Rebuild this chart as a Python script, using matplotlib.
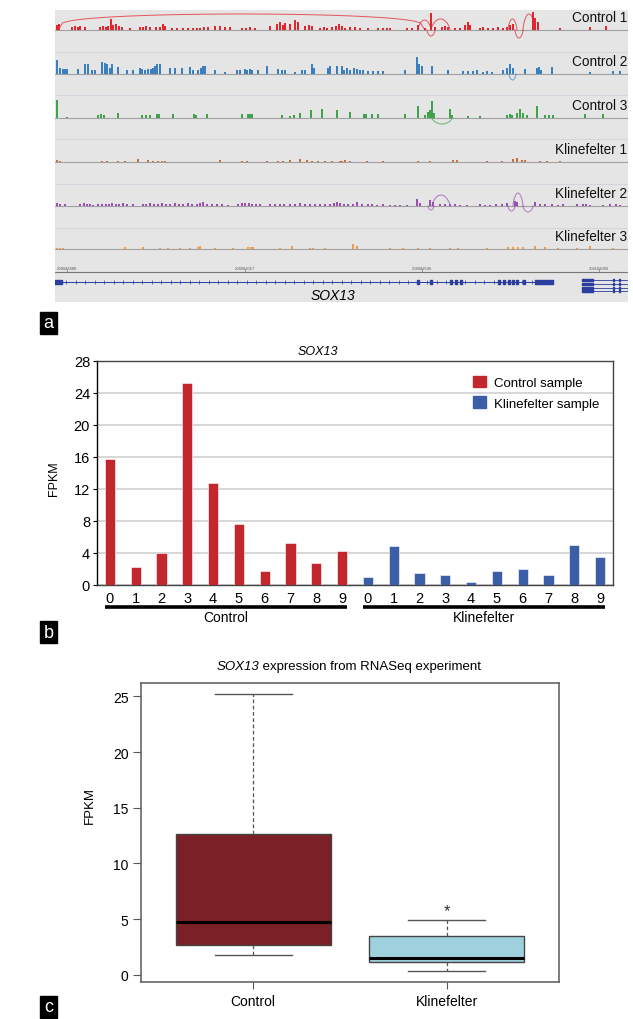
import matplotlib.pyplot as plt
import numpy as np
from matplotlib.patches import Patch, Rectangle

plt.rcParams["font.family"] = ["Liberation Sans", "DejaVu Sans"]

# ---- panel a: RNA-seq coverage along the SOX13 locus (position, peak height) ----
track_names = ["Control 1", "Control 2", "Control 3", "Klinefelter 1", "Klinefelter 2", "Klinefelter 3"]
track_colors = ["#e3262d", "#3a7fc1", "#3fa34d", "#c8703c", "#9b4fb5", "#f29a4a"]

c1_peaks = [(57, 5), (59, 6), (72, 3), (75, 4), (78, 3), (80, 4), (85, 3), (100, 3), (103, 4), (106, 3),
            (108, 4), (111, 11), (113, 5), (116, 6), (119, 4), (122, 3), (130, 2), (140, 3), (143, 3),
            (146, 4), (150, 3), (156, 3), (160, 3), (163, 6), (165, 4), (172, 2), (177, 2), (183, 2),
            (188, 2), (193, 2), (197, 2), (200, 2), (204, 3), (208, 3), (215, 4), (220, 4), (225, 3),
            (230, 3), (242, 2), (246, 2), (250, 3), (255, 2), (270, 4), (277, 6), (280, 8), (283, 5),
            (285, 7), (290, 6), (295, 10), (298, 8), (305, 4), (309, 5), (312, 4), (320, 2), (324, 3),
            (327, 2), (332, 3), (336, 4), (339, 6), (342, 4), (345, 2), (350, 3), (355, 3), (360, 2),
            (368, 2), (378, 2), (383, 2), (387, 2), (390, 2), (407, 2), (412, 2), (418, 5), (425, 2),
            (431, 17), (435, 3), (442, 3), (445, 4), (448, 3), (455, 2), (460, 2), (465, 5), (468, 8),
            (470, 5), (480, 2), (483, 3), (488, 2), (493, 2), (498, 3), (503, 2), (507, 3), (510, 5),
            (513, 6), (533, 18), (535, 12), (538, 8), (560, 2), (590, 3), (606, 4)]
c2_peaks = [(57, 14), (60, 6), (63, 5), (65, 5), (67, 5), (78, 5), (85, 10), (88, 10), (92, 4), (95, 4),
            (102, 12), (105, 11), (107, 10), (110, 6), (112, 10), (118, 7), (127, 4), (133, 4), (140, 6),
            (142, 5), (145, 4), (148, 5), (151, 5), (153, 6), (155, 8), (157, 10), (160, 10), (170, 6),
            (175, 6), (182, 6), (190, 7), (193, 4), (198, 4), (201, 6), (203, 8), (205, 8), (215, 4),
            (225, 2), (237, 4), (240, 4), (245, 5), (247, 4), (250, 5), (252, 4), (258, 4), (267, 8),
            (278, 5), (282, 4), (285, 4), (295, 2), (302, 4), (305, 4), (312, 10), (314, 6), (328, 6),
            (330, 8), (337, 8), (342, 8), (344, 4), (347, 6), (350, 4), (354, 6), (357, 5), (360, 4),
            (363, 4), (368, 3), (373, 3), (378, 3), (383, 3), (405, 4), (417, 17), (419, 10), (422, 8),
            (432, 8), (448, 4), (463, 3), (468, 3), (473, 3), (477, 4), (483, 2), (487, 3), (492, 2),
            (503, 4), (507, 6), (510, 10), (513, 6), (525, 5), (537, 6), (539, 7), (541, 4), (552, 7),
            (590, 2), (613, 3), (620, 3)]
c3_peaks = [(57, 18), (67, 1), (98, 3), (101, 4), (104, 3), (118, 5), (142, 3), (146, 3), (150, 3),
            (157, 4), (159, 4), (173, 4), (194, 4), (196, 3), (207, 4), (242, 4), (248, 4), (250, 4),
            (252, 4), (282, 3), (290, 2), (294, 3), (300, 5), (311, 8), (322, 9), (337, 8), (350, 6),
            (364, 4), (366, 4), (372, 4), (378, 4), (405, 4), (418, 12), (425, 3), (428, 6), (430, 8),
            (432, 17), (434, 5), (450, 9), (452, 3), (468, 2), (480, 2), (507, 3), (510, 4), (512, 3),
            (517, 5), (520, 9), (523, 5), (527, 3), (537, 12), (545, 3), (549, 3), (553, 3), (585, 4),
            (603, 4)]
k1_peaks = [(57, 2), (60, 1), (102, 1), (107, 1), (118, 1), (125, 1), (138, 3), (148, 2), (153, 1),
            (158, 1), (162, 1), (165, 1), (220, 2), (242, 1), (247, 1), (267, 1), (278, 1), (283, 1),
            (290, 2), (300, 3), (307, 2), (312, 1), (318, 1), (325, 1), (332, 1), (340, 1), (342, 1),
            (345, 2), (350, 1), (367, 1), (383, 1), (418, 1), (430, 1), (453, 2), (457, 2), (487, 1),
            (502, 1), (513, 3), (517, 4), (522, 2), (525, 2), (540, 1), (547, 1), (560, 1)]
k2_peaks = [(57, 3), (60, 2), (65, 2), (80, 2), (84, 3), (87, 2), (90, 2), (93, 1), (98, 2), (102, 2),
            (106, 2), (109, 2), (112, 3), (116, 2), (119, 2), (123, 3), (127, 2), (133, 2), (143, 2),
            (146, 2), (150, 3), (154, 2), (158, 2), (162, 3), (166, 2), (170, 2), (175, 3), (179, 2),
            (183, 2), (188, 3), (192, 2), (197, 2), (200, 3), (203, 4), (207, 2), (212, 2), (217, 2),
            (222, 2), (228, 1), (238, 2), (242, 3), (245, 3), (249, 3), (252, 2), (256, 2), (260, 2),
            (270, 2), (275, 2), (280, 2), (284, 2), (290, 2), (295, 2), (300, 3), (305, 2), (310, 2),
            (315, 2), (320, 2), (325, 2), (330, 2), (334, 3), (337, 4), (340, 3), (344, 2), (348, 2),
            (353, 2), (357, 4), (362, 2), (368, 2), (372, 2), (377, 1), (383, 2), (390, 1), (395, 1),
            (400, 1), (407, 1), (417, 7), (420, 3), (430, 6), (433, 4), (440, 2), (445, 2), (450, 2),
            (455, 2), (460, 1), (467, 1), (480, 2), (485, 1), (490, 1), (496, 2), (502, 2), (507, 3),
            (515, 5), (517, 4), (535, 4), (540, 2), (545, 2), (552, 2), (558, 1), (563, 2), (577, 2),
            (583, 2), (586, 2), (590, 1), (603, 1), (610, 2), (616, 2), (620, 1)]
k3_peaks = [(57, 1), (60, 1), (63, 1), (125, 2), (143, 2), (160, 1), (168, 1), (180, 1), (190, 1),
            (198, 2), (200, 3), (215, 1), (233, 1), (248, 2), (251, 2), (253, 2), (280, 1), (292, 3),
            (310, 1), (313, 1), (325, 1), (353, 5), (357, 3), (390, 1), (403, 1), (418, 1), (430, 1),
            (450, 1), (458, 1), (487, 1), (508, 2), (513, 2), (518, 2), (523, 2), (535, 3), (545, 2),
            (558, 1), (577, 1), (590, 3), (613, 1)]
track_peaks = [c1_peaks, c2_peaks, c3_peaks, k1_peaks, k2_peaks, k3_peaks]

# splice junctions (start, end, height; negative = drawn below the track)
track_arcs = [
    [(58, 425, 16), (418, 431, 10), (431, 450, 11), (427, 435, -6), (508, 517, 11), (515, 523, -8), (523, 535, 16)],
    [(509, 516, -6)],
    [(432, 452, -6)],
    [],
    [(432, 450, 11), (428, 434, -4), (508, 515, -5), (513, 523, 13), (523, 533, -6)],
    [],
]

ruler_labels = ["204043480", "204063017", "204082536", "204102056"]
ruler_pos = [67, 245, 422, 599]
exon_blocks = [(55, 7), (417, 2), (430, 2), (450, 2), (455, 2), (460, 2), (498, 2), (503, 2),
               (508, 2), (512, 2), (516, 2), (523, 2), (535, 18)]
alt_rows = [281, 285, 289, 292]

# ---- panel b: FPKM per sample ----
sample_ids = ["0", "1", "2", "3", "4", "5", "6", "7", "8", "9"]
control_fpkm = [15.7, 2.2, 4.0, 25.2, 12.7, 7.6, 1.8, 5.3, 2.8, 4.3]
klinefelter_fpkm = [1.05, 4.9, 1.45, 1.2, 0.38, 1.8, 2.0, 1.2, 5.0, 3.55]

# ---- panel c: boxplot statistics ----
groups = ["Control", "Klinefelter"]
box_q1 = [2.7, 1.13]
box_med = [4.7, 1.55]
box_q3 = [12.6, 3.48]
whis_lo = [1.75, 0.35]
whis_hi = [25.2, 4.95]
box_colors = ["#7a2026", "#9fd0de"]

W, H = 633, 1020
fig = plt.figure(figsize=(W / 100, H / 100), dpi=100)
renderer = fig.canvas.get_renderer()


def px_axes(l, t, r, b):
    return fig.add_axes([l / W, 1 - b / H, (r - l) / W, (b - t) / H])


def tag(letter, top):
    fig.patches.append(Rectangle((40 / W, 1 - (top + 22) / H), 17 / W, 22 / H,
                                 transform=fig.transFigure, color="black"))
    fig.text(48.5 / W, 1 - (top + 11) / H, letter, color="white", fontsize=13,
             ha="center", va="center")


# ================= panel a =================
ax_a = px_axes(55, 11, 628, 303)
ax_a.set_facecolor("#e5e5e5")
ax_a.set_xlim(55, 628)
ax_a.set_ylim(303, 11)
ax_a.set_xticks([])
ax_a.set_yticks([])
for s in ax_a.spines.values():
    s.set_visible(False)

baselines = [31, 75, 119, 163, 207, 250]
for y in [53, 96, 140, 185, 229]:
    ax_a.axhline(y, color="#d3d6df", lw=0.8)

for name, color, peaks, arcs, base in zip(track_names, track_colors, track_peaks, track_arcs, baselines):
    ax_a.axhline(base, color="#a0a0a0", lw=0.8, zorder=1)
    pos = np.array([p for p, _ in peaks])
    hgt = np.array([h for _, h in peaks])
    ax_a.bar(pos, -hgt, bottom=base, width=1.8, color=color, lw=0, zorder=2)
    for x0, x1, h in arcs:
        t = np.linspace(0, 1, 80)
        p = 0.25 if x1 - x0 > 100 else 0.6
        ax_a.plot(x0 + (x1 - x0) * t, base - h * np.sin(np.pi * t) ** p,
                  color=color, lw=0.7, alpha=0.75, zorder=3)
    ax_a.text(627, base - 13, name, ha="right", va="center", fontsize=9.8, color="#111111")

# ruler
ax_a.plot([55, 628], [273, 273], color="#777777", lw=0.8)
for lab, x in zip(ruler_labels, ruler_pos):
    ax_a.plot([x, x], [273, 270], color="#777777", lw=0.5)
    ax_a.text(x, 271, lab, fontsize=3, color="#555555", ha="center", va="bottom")

# gene model
gene_color = "#2b3d9e"
ax_a.plot([55, 553], [283, 283], color=gene_color, lw=0.7)
ticks = np.arange(66, 553, 9.5)
ax_a.plot(ticks, np.full(len(ticks), 283), ls="none", marker="|", ms=2.5, mew=0.5, color=gene_color)
ax_a.broken_barh(exon_blocks, (281, 4), color=gene_color)
for y in alt_rows:
    ax_a.plot([582, 628], [y, y], color=gene_color, lw=0.6)
    ax_a.broken_barh([(582, 11), (612.5, 1.2), (618.5, 1.2)], (y - 1.3, 2.6), color=gene_color)
ax_a.text(333, 296, "SOX13", style="italic", fontsize=10, ha="center", va="center")
tag("a", 313)

# ================= panel b =================
ax_b = px_axes(97, 362, 613, 586)
x_ctrl = np.arange(len(control_fpkm))
x_kf = np.arange(len(klinefelter_fpkm)) + len(control_fpkm)
ax_b.bar(x_ctrl, control_fpkm, 0.4, color="#c1272d", edgecolor="white", lw=0.4, zorder=3)
ax_b.bar(x_kf, klinefelter_fpkm, 0.4, color="#3b5ea6", edgecolor="white", lw=0.4, zorder=3)
ax_b.set_xlim(-0.5, len(x_ctrl) + len(x_kf) - 0.5)
ax_b.set_ylim(0, 28)
ax_b.set_yticks(np.arange(0, 29, 4))
ax_b.yaxis.grid(True, color="#d6d6d6", lw=1.4)
ax_b.set_axisbelow(True)
ax_b.set_xticks(np.concatenate([x_ctrl, x_kf]))
ax_b.set_xticklabels(sample_ids + sample_ids)
ax_b.tick_params(axis="x", length=0, pad=4, labelsize=10.5)
ax_b.tick_params(axis="y", length=3, pad=2, labelsize=10.5)
for s in ax_b.spines.values():
    s.set_color("#444444")
    s.set_linewidth(1)
ax_b.spines["left"].set_color("black")
ax_b.set_ylabel("FPKM", fontsize=9)
ax_b.yaxis.set_label_coords(-0.072, 0.48)
fig.text(318 / W, 1 - 352 / H, "SOX13", style="italic", fontsize=9, ha="center", va="center")

trans = ax_b.get_xaxis_transform()
for xs, lab in [(x_ctrl, "Control"), (x_kf, "Klinefelter")]:
    ax_b.plot([xs[0] - 0.2, xs[-1] + 0.2], [-0.098, -0.098], transform=trans,
              clip_on=False, color="black", lw=2.6, solid_capstyle="butt")
    ax_b.text(xs.mean(), -0.145, lab, transform=trans, ha="center", va="center", fontsize=10)

ax_b.legend(handles=[Patch(color="#c1272d"), Patch(color="#3b5ea6")],
            labels=["Control sample", "Klinefelter sample"], loc="upper left",
            bbox_to_anchor=(0.728, 0.935), frameon=False, fontsize=9.5, borderpad=0,
            borderaxespad=0, handlelength=1.0, handleheight=1.0, handletextpad=0.6,
            labelspacing=0.55)
tag("b", 622)

# ================= panel c =================
ax_c = px_axes(141, 684, 559, 983)
stats = [dict(med=m, q1=a, q3=b, whislo=lo, whishi=hi, label=g)
         for g, a, m, b, lo, hi in zip(groups, box_q1, box_med, box_q3, whis_lo, whis_hi)]
bp = ax_c.bxp(stats, positions=[1, 2], widths=0.8, capwidths=0.4, patch_artist=True,
              showfliers=False,
              boxprops=dict(edgecolor="#444444", lw=1),
              medianprops=dict(color="black", lw=2.2),
              whiskerprops=dict(color="#555555", lw=0.9, ls=(0, (3, 2))),
              capprops=dict(color="#555555", lw=1))
for patch, c in zip(bp["boxes"], box_colors):
    patch.set_facecolor(c)
ax_c.set_xlim(0.42, 2.58)
ax_c.set_ylim(-0.65, 26.2)
ax_c.set_yticks([0, 5, 10, 15, 20, 25])
ax_c.tick_params(axis="y", length=6, pad=3, labelsize=10, color="#555555")
ax_c.tick_params(axis="x", length=5, pad=4, labelsize=10, color="#555555")
for s in ax_c.spines.values():
    s.set_color("#666666")
    s.set_linewidth(1.2)
ax_c.set_ylabel("FPKM", fontsize=9.5)
ax_c.yaxis.set_label_coords(-0.108, 0.595)
ax_c.text(2, whis_hi[1] + 0.8, "*", ha="center", va="center", fontsize=12, color="#333333")

# title with italic gene name followed by upright text
title_y = 1 - 667 / H
t1 = fig.text(0, title_y, "SOX13", style="italic", fontsize=9.5, ha="left", va="center")
t2 = fig.text(0, title_y, " expression from RNASeq experiment", fontsize=9.5, ha="left", va="center")
w1 = t1.get_window_extent(renderer).width
w2 = t2.get_window_extent(renderer).width
x0 = 349 - (w1 + w2) / 2
t1.set_x(x0 / W)
t2.set_x((x0 + w1) / W)
tag("c", 997)

fig.savefig("out.png", dpi=100)
